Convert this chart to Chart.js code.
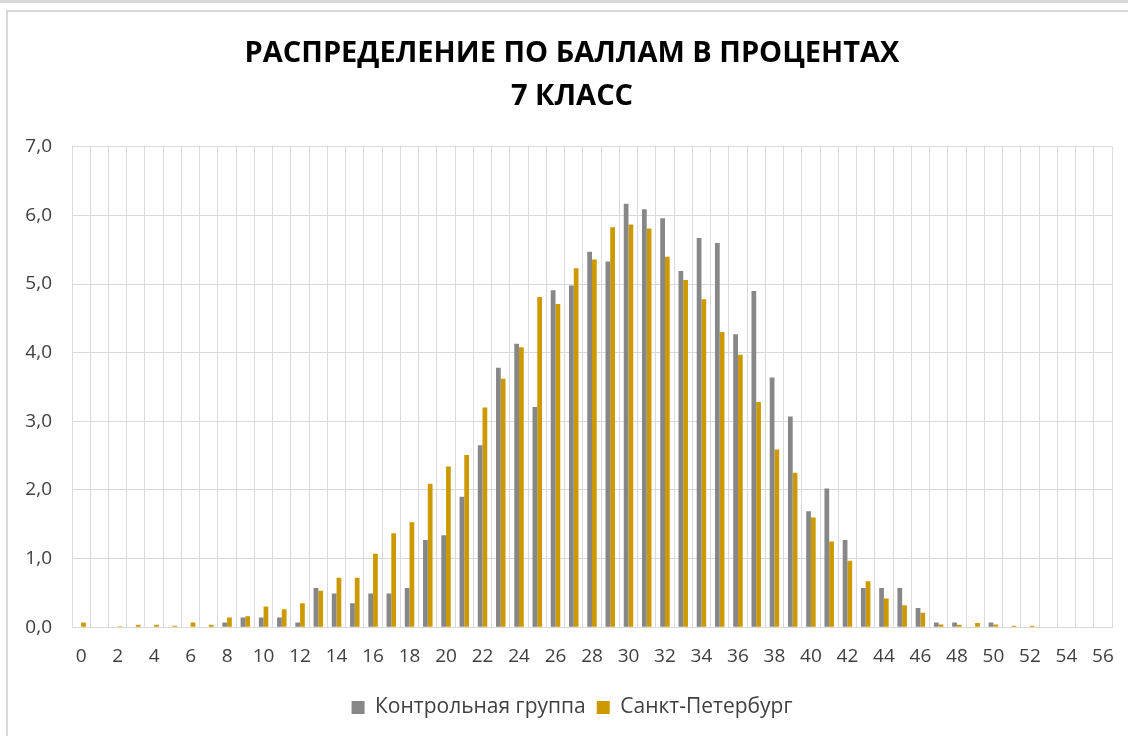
<!DOCTYPE html>
<html lang="ru">
<head>
<meta charset="utf-8">
<title>Распределение по баллам в процентах, 7 класс</title>
<script src="https://cdn.jsdelivr.net/npm/chart.js@4.4.1/dist/chart.umd.min.js"></script>
<style>
  html, body { margin: 0; padding: 0; background: #ffffff; overflow: hidden; }
  .topStrip { position: absolute; left: 0; top: 0; width: 1128px; height: 3px; background: #d9d9d9; }
  .frame { position: absolute; left: 6px; top: 10px; width: 1140px; height: 730px; border: 2px solid #d9d9d9; border-right: none; box-sizing: border-box; }
  canvas { display: block; }
</style>
</head>
<body>
<div class="topStrip"></div>
<div class="frame">
  <canvas id="scoreChart" width="1128" height="724"></canvas>
</div>
<script>
// баллы 0..56
const scores = [];
for (let s = 0; s <= 56; s++) scores.push(String(s));

const seriesNames = ["Контрольная группа", "Санкт-Петербург"];

// проценты учащихся, набравших данный балл
const controlGroup = [
  0, 0, 0, 0, 0, 0, 0, 0, 0.07, 0.14,
  0.14, 0.14, 0.07, 0.57, 0.49, 0.35, 0.49, 0.49, 0.57, 1.27,
  1.34, 1.90, 2.65, 3.78, 4.13, 3.21, 4.91, 4.98, 5.47, 5.33,
  6.17, 6.09, 5.96, 5.19, 5.67, 5.60, 4.27, 4.90, 3.64, 3.07,
  1.69, 2.02, 1.27, 0.57, 0.57, 0.57, 0.28, 0.07, 0.07, 0,
  0.07, 0, 0, 0, 0, 0, 0
];
const spb = [
  0.07, 0, 0.015, 0.035, 0.035, 0.02, 0.07, 0.035, 0.14, 0.16,
  0.30, 0.26, 0.35, 0.53, 0.72, 0.72, 1.07, 1.37, 1.53, 2.09,
  2.34, 2.51, 3.20, 3.62, 4.08, 4.81, 4.71, 5.23, 5.36, 5.83,
  5.87, 5.81, 5.40, 5.06, 4.78, 4.30, 3.97, 3.28, 2.59, 2.25,
  1.60, 1.25, 0.97, 0.67, 0.42, 0.32, 0.21, 0.04, 0.035, 0.06,
  0.04, 0.02, 0.02, 0, 0, 0, 0
];

const titleLines = ["РАСПРЕДЕЛЕНИЕ ПО БАЛЛАМ В ПРОЦЕНТАХ", "7 КЛАСС"];

const gridColor = "#d9d9d9";
const textColor = "#404040";
const fontFamily = "'Open Sans', sans-serif";

const ctx = document.getElementById("scoreChart").getContext("2d");

const scoreChart = new Chart(ctx, {
  type: "bar",
  data: {
    labels: scores,
    datasets: [
      {
        label: seriesNames[0],
        data: controlGroup,
        backgroundColor: "#878787",
        categoryPercentage: 0.52,
        barPercentage: 1.0
      },
      {
        label: seriesNames[1],
        data: spb,
        backgroundColor: "#cc9a00",
        categoryPercentage: 0.52,
        barPercentage: 1.0
      }
    ]
  },
  options: {
    responsive: false,
    animation: false,
    layout: {
      padding: { left: 0, right: 0, top: 0, bottom: 8 }
    },
    plugins: {
      title: {
        display: true,
        text: titleLines,
        color: "#000000",
        font: { family: fontFamily, size: 29, weight: "bold", lineHeight: 1.48 },
        padding: { top: 20, bottom: 29 }
      },
      legend: {
        position: "bottom",
        labels: {
          color: textColor,
          font: { family: fontFamily, size: 21 },
          boxWidth: 13,
          boxHeight: 13,
          padding: 11
        }
      },
      tooltip: {
        callbacks: {
          label: function (item) {
            return item.dataset.label + ": " + item.raw.toFixed(2).replace(".", ",");
          }
        }
      }
    },
    scales: {
      x: {
        grid: { color: gridColor, offset: true, drawTicks: false },
        border: { color: gridColor },
        ticks: {
          color: textColor,
          font: { family: fontFamily, size: 19 },
          autoSkip: false,
          maxRotation: 0,
          padding: 18,
          callback: function (value, index) {
            return index % 2 === 0 ? scores[index] : "";
          }
        }
      },
      y: {
        min: 0,
        max: 7,
        grid: { color: gridColor, drawTicks: false },
        border: { display: false },
        afterFit: function (scale) {
          scale.width = 64;
        },
        ticks: {
          stepSize: 1,
          color: textColor,
          font: { family: fontFamily, size: 19 },
          padding: 20,
          callback: function (value) {
            return value.toFixed(1).replace(".", ",");
          }
        }
      },
      // пустая ось справа — только чтобы оставить место, как в оригинале
      yRight: {
        position: "right",
        min: 0,
        max: 7,
        grid: { display: false },
        border: { display: false },
        ticks: { display: false },
        afterFit: function (scale) {
          scale.width = 24;
        }
      }
    }
  }
});
</script>
</body>
</html>
